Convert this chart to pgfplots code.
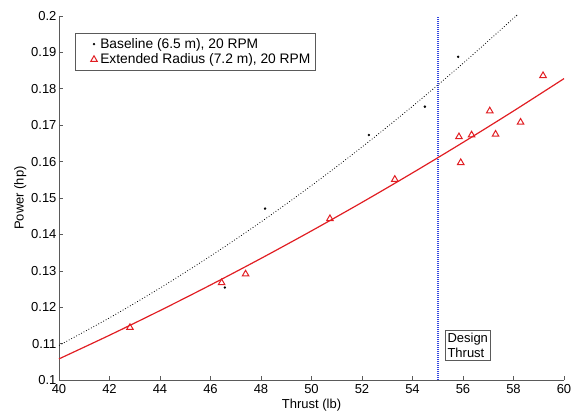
\documentclass[border=0pt]{standalone}
\usepackage{pgfplots}
\pgfplotsset{compat=1.18}
\usepackage{fontspec}
\setmainfont{Liberation Sans}
\definecolor{mred}{RGB}{225,30,35}
\definecolor{mblue}{RGB}{50,70,225}
\definecolor{axgray}{RGB}{90,90,90}
\pgfplotsset{myleg/.style={legend image code/.code={\path[draw=none,fill=none] (0cm,0cm) -- (0.7cm,0cm);\draw[##1,only marks] plot coordinates {(0.55cm,0cm)};}}}
\begin{document}
\begin{tikzpicture}
\begin{axis}[
  name=ax,
  scale only axis,
  width=505pt, height=364pt,
  xmin=40, xmax=60, ymin=0.1, ymax=0.2,
  axis lines*=left,
  axis line style={axgray, line width=0.6pt},
  tick style={axgray, line width=0.6pt},
  tick align=inside,
  major tick length=4pt,
  xtick={40,42,...,60},
  ytick={0.1,0.11,0.12,0.13,0.14,0.15,0.16,0.17,0.18,0.19,0.2},
  yticklabels={0.1,0.11,0.12,0.13,0.14,0.15,0.16,0.17,0.18,0.19,0.2},
  /pgf/number format/assume math mode=true,
  tick label style={font=\fontsize{13}{15}\selectfont},
  xticklabel style={yshift=-1pt},
  yticklabel style={xshift=1pt},
  label style={font=\fontsize{13}{15}\selectfont},
  xlabel={Thrust (lb)},
  ylabel={Power (hp)},
  xlabel style={yshift=2pt},
  ylabel style={yshift=-2pt},
  legend style={at={(0.032,0.953)}, anchor=north west, draw=axgray, font=\fontsize{13.8}{15}\selectfont, row sep=0pt, inner xsep=3pt, inner ysep=3pt, cells={anchor=west}},
  legend cell align=left,
  clip=false,
]
% vertical design thrust line
\addplot[draw=mblue, line width=1.5pt, dash pattern=on 1pt off 1pt, forget plot] coordinates {(55,0.1) (55,0.2)};
% baseline data
\addplot[only marks, mark=*, mark size=1pt, black, myleg] coordinates {
  (46.57,0.1254) (48.16,0.1471) (52.27,0.1673) (54.49,0.1751) (55.81,0.1888)};
\addlegendentry{Baseline (6.5 m), 20 RPM}
% extended radius data
\addplot[only marks, mark=triangle, mark size=3.8pt, mred, mark options={line width=1pt}, myleg] coordinates {
  (42.81,0.1144) (46.44,0.1267) (47.39,0.1291) (50.73,0.1443) (53.30,0.1551)
  (55.84,0.1668) (55.91,0.1597) (56.34,0.1673) (57.06,0.1739) (57.29,0.1675)
  (58.28,0.1708) (59.17,0.1836)};
\addlegendentry{Extended Radius (7.2 m), 20 RPM}
% baseline fit
\addplot[black, dotted, line width=0.8pt, smooth, forget plot] coordinates {
  (40,0.1095) (42,0.11708) (44,0.12526) (46,0.13405) (48,0.14343) (50,0.15342)
  (52,0.16401) (54,0.1752) (56,0.18699) (58,0.19938) (58.1,0.2000)};
% extended fit
\addplot[mred, line width=1.2pt, smooth, forget plot] coordinates {
  (40,0.1058) (42,0.11230) (44,0.11907) (46,0.12610) (48,0.13340) (50,0.14097)
  (52,0.14880) (54,0.15690) (56,0.16527) (58,0.17390) (60,0.18280)};
\node[draw=axgray, fill=white, anchor=south west, align=left, inner sep=2.5pt, font=\fontsize{13}{15}\selectfont] at (axis cs:55.28,0.1055) {Design\\Thrust};
\end{axis}
\pgfresetboundingbox
\path ([xshift=-59pt,yshift=-36pt]ax.south west) rectangle ([xshift=7pt,yshift=16pt]ax.north east);
\end{tikzpicture}
\end{document}
